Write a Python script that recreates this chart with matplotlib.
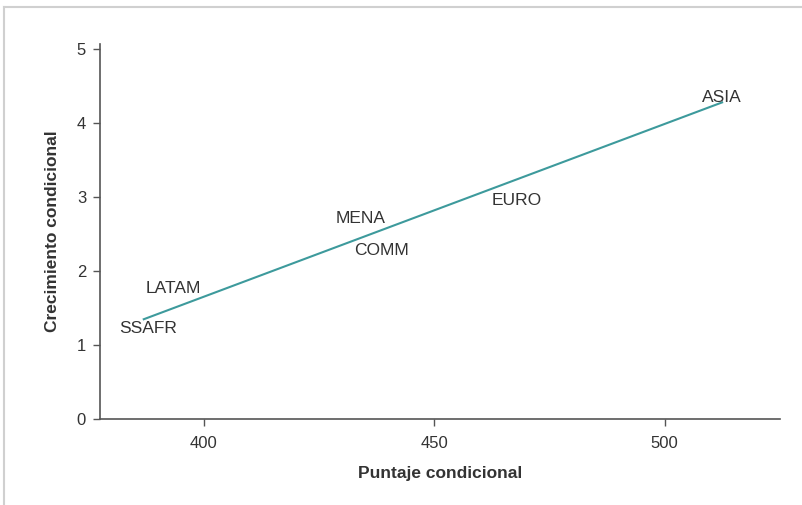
import matplotlib
matplotlib.use("Agg")
import matplotlib.pyplot as plt
from matplotlib.lines import Line2D

plt.rcParams["font.family"] = ["Liberation Sans", "DejaVu Sans"]

# region labels placed at (conditional score, conditional growth)
regions = ["ASIA", "EURO", "MENA", "COMM", "LATAM", "SSAFR"]
score = [512.5, 468.0, 434.0, 438.5, 393.5, 388.0]
growth = [4.34, 2.96, 2.71, 2.28, 1.77, 1.23]

# fitted line endpoints
fit_x = [387.0, 512.5]
fit_y = [1.35, 4.28]

TEXT = "#333333"

fig = plt.figure(figsize=(8.03, 5.05), dpi=100)
ax = fig.add_axes([0.1245, 0.170, 0.8465, 0.743])

ax.plot(fit_x, fit_y, color="#3d9a9c", lw=1.5)
for name, x, y in zip(regions, score, growth):
    ax.text(x, y, name, ha="center", va="center", fontsize=12.5, color=TEXT)

ax.set_xlim(377.5, 525)
ax.set_ylim(0, 5.07)
ax.set_xticks([400, 450, 500])
ax.set_yticks([0, 1, 2, 3, 4, 5])
for s in ("top", "right"):
    ax.spines[s].set_visible(False)
for s in ("left", "bottom"):
    ax.spines[s].set_color("#555555")
    ax.spines[s].set_linewidth(1.2)
ax.tick_params(colors="#555555", labelcolor=TEXT, labelsize=12, length=5, width=1)
ax.tick_params(axis="x", pad=7)
ax.tick_params(axis="y", pad=5)
ax.set_xlabel("Puntaje condicional", fontsize=12.5, fontweight="bold", color=TEXT, labelpad=11)
ax.set_ylabel("Crecimiento condicional", fontsize=12.5, fontweight="bold", color=TEXT, labelpad=12)

# faint frame of the original screenshot
fig.add_artist(Line2D([0.005, 1.0], [0.986, 0.986], color="#d0d0d0", lw=1.5))
fig.add_artist(Line2D([0.005, 0.005], [0.0, 0.986], color="#d0d0d0", lw=1.5))

fig.savefig("out.png", dpi=100)
